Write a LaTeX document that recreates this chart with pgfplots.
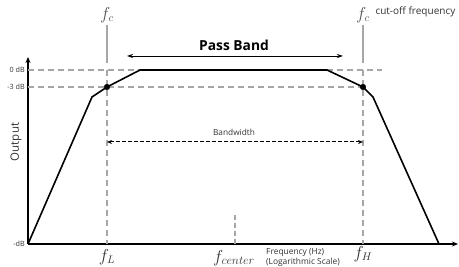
\documentclass[border=0pt]{standalone}
\usepackage{fontspec}
\setmainfont{Open Sans}
\usepackage{pgfplots}
\pgfplotsset{compat=1.18}
\usetikzlibrary{arrows.meta}
\definecolor{guide}{HTML}{A6A6A6}
\definecolor{txt}{HTML}{333333}
\begin{document}
\begin{tikzpicture}
\begin{axis}[
  at={(28pt,23pt)}, anchor=south west,
  scale only axis, width=430pt, height=187pt,
  xmin=28, xmax=458, ymin=23, ymax=210,
  axis lines=left,
  axis line style={line width=1.4pt, -{Stealth[length=6pt,width=5pt]}},
  xtick=\empty, ytick=\empty,
  clip=false,
]
% guide lines
\addplot[guide, line width=1.2pt, forget plot] coordinates {(107,242) (107,204)};
\addplot[guide, line width=1.2pt, forget plot] coordinates {(363,242) (363,204)};
\addplot[guide, line width=1.1pt, dash pattern=on 6pt off 4pt, forget plot] coordinates {(107,197) (107,23)};
\addplot[guide, line width=1.1pt, dash pattern=on 6pt off 4pt, forget plot] coordinates {(363,197) (363,23)};
\addplot[guide, line width=1.1pt, dash pattern=on 6pt off 4pt, forget plot] coordinates {(28,197) (140,197)};
\addplot[guide, line width=1.1pt, dash pattern=on 6pt off 4pt, forget plot] coordinates {(327,197) (382,197)};
\addplot[guide, line width=1.1pt, dash pattern=on 6pt off 4pt, forget plot] coordinates {(28,180) (363,180)};
\addplot[guide, line width=1.1pt, dash pattern=on 5pt off 3pt, forget plot] coordinates {(235,23) (235,52)};
% response curve
\addplot[black, line width=1.6pt, line join=round] coordinates {
 (28,23) (92,170) (107,180) (140,197) (327,197) (363,180) (373,170) (439,23)};
% cut-off points
\addplot[only marks, mark=*, mark size=2.8pt, black] coordinates {(107,180) (363,180)};
% pass band arrow
\addplot[black, line width=0.9pt, {Stealth[length=6pt,width=4pt]}-{Stealth[length=6pt,width=4pt]}] coordinates {(127,211) (343,211)};
% bandwidth arrow
\addplot[black, line width=1pt, dash pattern=on 4pt off 2pt, {Stealth[length=5pt,width=4pt]}-{Stealth[length=5pt,width=4pt]}] coordinates {(107,125) (363,125)};
% texts
\node[font=\bfseries\fontsize{13.8}{15}\selectfont] at (axis cs:234,222) {Pass Band};
\node[txt, font=\fontsize{8.3}{10}\selectfont] at (axis cs:234,135) {Bandwidth};
\node[font=\fontsize{16}{18}\selectfont, guide!50!black] at (axis cs:107,252) {$f_c$};
\node[font=\fontsize{16}{18}\selectfont, guide!50!black] at (axis cs:363,252) {$f_c$};
\node[anchor=west, txt, font=\fontsize{10}{12}\selectfont] at (axis cs:372,255) {cut-off frequency};
\node[font=\fontsize{16}{18}\selectfont, guide!30!black] at (axis cs:107,10) {$f_L$};
\node[font=\fontsize{16}{18}\selectfont, guide!30!black] at (axis cs:363,13) {$f_H$};
\node[font=\fontsize{16.5}{18}\selectfont, guide!30!black] at (axis cs:234,9) {$f_{center}$};
\node[anchor=north west, txt, font=\fontsize{8.4}{10.5}\selectfont, align=left, inner sep=1pt] at (axis cs:265,20) {Frequency (Hz)\\(Logarithmic Scale)};
\node[anchor=east, txt, font=\fontsize{7.2}{8}\selectfont, inner sep=1pt] at (axis cs:26,197) {0 dB};
\node[anchor=east, txt, font=\fontsize{7.2}{8}\selectfont, inner sep=1pt] at (axis cs:26,180) {-3 dB};
\node[anchor=east, txt, font=\fontsize{7.2}{8}\selectfont, inner sep=1pt] at (axis cs:26,23) {-dB};
\node[rotate=90, txt, font=\fontsize{11.5}{13}\selectfont] at (axis cs:16,125) {Output};
\end{axis}
\pgfresetboundingbox
\useasboundingbox (0,0) rectangle (459pt,267pt);
\end{tikzpicture}
\end{document}
